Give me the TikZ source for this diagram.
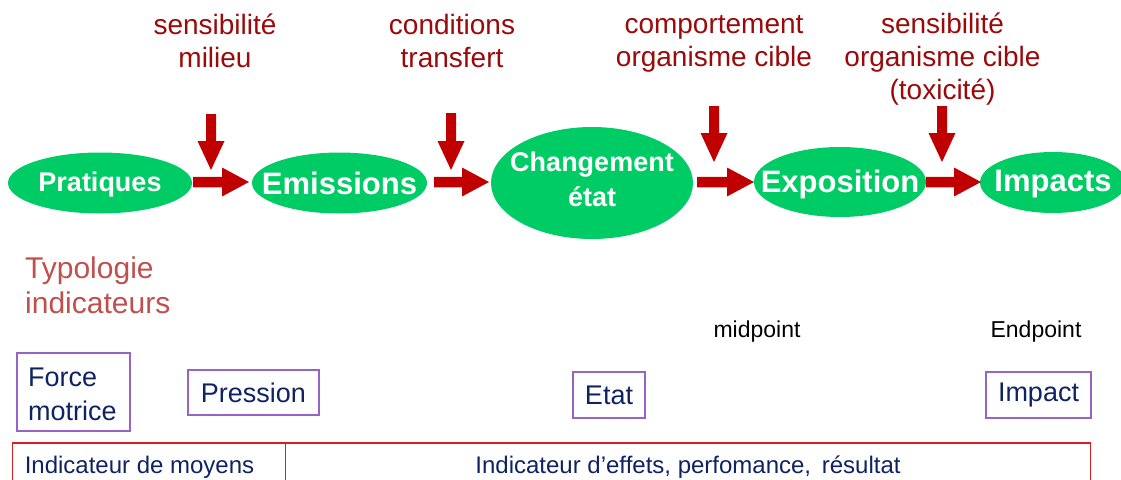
\documentclass[tikz,border=0pt]{standalone}
\usepackage{fontspec}
\setmainfont{Liberation Sans}
\usetikzlibrary{shapes.geometric,calc}
\definecolor{egreen}{RGB}{0,204,102}
\definecolor{arrred}{RGB}{192,0,0}
\definecolor{lblred}{RGB}{155,10,10}
\definecolor{typred}{RGB}{192,80,77}
\definecolor{navy}{RGB}{15,35,100}
\definecolor{boxviolet}{RGB}{150,100,200}
\definecolor{tabred}{RGB}{220,30,30}
\newcommand\blockarr[5]{%
  \coordinate (tmpH) at ($(#2)!#5!(#1)$);
  \fill[arrred] ($(#1)!#3!90:(#2)$) -- ($(tmpH)!#3!-90:(#1)$) -- ($(tmpH)!#4!-90:(#1)$)
    -- (#2) -- ($(tmpH)!#4!90:(#1)$) -- ($(tmpH)!#3!90:(#1)$) -- ($(#1)!#3!-90:(#2)$) -- cycle;}
\tikzset{
  ell/.style={ellipse, fill=egreen, inner sep=0pt},
  etext/.style={text=white, font=\bfseries\fontsize{#1}{35}\selectfont, align=center, inner sep=0pt},
  toplbl/.style={text=lblred, font=\fontsize{28}{33}\selectfont, align=center, inner sep=0pt, anchor=base},
  indbox/.style={draw=boxviolet, line width=1.2pt, text=navy, font=\fontsize{27}{34}\selectfont, inner sep=0pt},
  tabcell/.style={draw=tabred, line width=1.2pt},
  tabtext/.style={text=navy, font=\fontsize{24}{28}\selectfont, anchor=base, inner sep=0pt},
  ptext/.style={text=black, font=\fontsize{23}{28}\selectfont, anchor=base, inner sep=0pt},
}
\begin{document}
\begin{tikzpicture}[x=1pt,y=-1pt]
\useasboundingbox (0,0) rectangle (1121,479);
\begin{scope}
\clip (0,0) rectangle (1121,479);
% top labels (anchor = baseline of last line)
\node[toplbl] (l1) at (215,67) {sensibilité\\milieu};
\node[toplbl] (l2) at (452,67) {conditions\\transfert};
\node[toplbl] (l3) at (714,66) {comportement\\organisme cible};
\node[toplbl] (l4) at (942.5,99) {sensibilité\\organisme cible\\(toxicité)};
% ellipses
\node[ell, minimum width=184, minimum height=61, label={[etext=27, yshift=-2]center:Pratiques}] (prat) at (100,183) {};
\node[ell, minimum width=175, minimum height=61, label={[etext=31, yshift=0]center:Emissions}] (emis) at (339.5,183) {};
\node[ell, minimum width=202, minimum height=112, label={[etext=27, yshift=4]center:Changement\\état}] (chg) at (592,183) {};
\node[ell, minimum width=172, minimum height=70, label={[etext=31, yshift=-2]center:Exposition}] (expo) at (840,182) {};
\node[ell, minimum width=146, minimum height=61, label={[etext=31, yshift=-2]center:Impacts}] (imp) at (1053,182.5) {};
% horizontal arrows
\coordinate (h1s) at (193,182); \coordinate (h1e) at (249,182);
\coordinate (h2s) at (434,182); \coordinate (h2e) at (489,182);
\coordinate (h3s) at (697,182); \coordinate (h3e) at (754,182);
\coordinate (h4s) at (926,182); \coordinate (h4e) at (981,182);
\blockarr{h1s}{h1e}{5.25pt}{14.5pt}{27pt}
\blockarr{h2s}{h2e}{5.25pt}{14.5pt}{27pt}
\blockarr{h3s}{h3e}{5.25pt}{14.5pt}{27pt}
\blockarr{h4s}{h4e}{5.25pt}{14.5pt}{27pt}
% vertical arrows
\coordinate (v1s) at (211,114); \coordinate (v1e) at (211,170);
\coordinate (v2s) at (451,113); \coordinate (v2e) at (451,170);
\coordinate (v3s) at (714,106); \coordinate (v3e) at (714,162);
\coordinate (v4s) at (942,106); \coordinate (v4e) at (942,162);
\blockarr{v1s}{v1e}{5pt}{13.5pt}{29pt}
\blockarr{v2s}{v2e}{5pt}{13.5pt}{29pt}
\blockarr{v3s}{v3e}{5pt}{13.5pt}{29pt}
\blockarr{v4s}{v4e}{5pt}{13.5pt}{29pt}
% typologie
\node[text=typred, font=\fontsize{30}{35}\selectfont, align=left, anchor=base west, inner sep=0pt] (typo) at (25,313) {Typologie\\indicateurs};
\node[ptext] (mid) at (757,337.5) {midpoint};
\node[ptext] (endp) at (1036,337.5) {Endpoint};
% indicator boxes
\draw[boxviolet, line width=1.2pt] (17,353) rectangle (130,431);
\node[text=navy, font=\fontsize{27}{34}\selectfont, align=left, anchor=base west, inner sep=0pt] (force) at (28,420) {Force\\motrice};
\node[indbox, minimum width=131, minimum height=45] (press) at (253.5,392.5) {Pression};
\node[indbox, minimum width=72, minimum height=46] (etat) at (609,395) {Etat};
\node[indbox, minimum width=105, minimum height=46] (impc) at (1038.5,395) {Impact};
% bottom table
\draw[tabcell] (12.5,443) rectangle (285.5,500);
\draw[tabcell] (285.5,443) rectangle (1090.5,500);
\node[tabtext] (moy) at (139.5,473) {Indicateur de moyens};
\node[tabtext] (eff) at (688,473) {Indicateur d’effets, perfomance,\, résultat};
\end{scope}
\end{tikzpicture}
\end{document}
